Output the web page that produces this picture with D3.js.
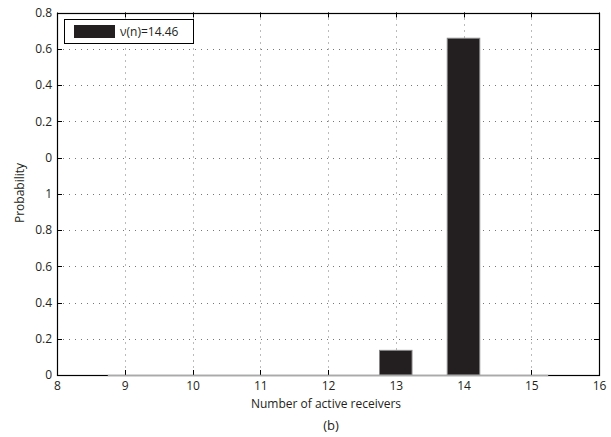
<!doctype html>
<html lang="en">
<head>
  <meta charset="utf-8">
  <title>Probability of active receivers</title>
  <script src="https://d3js.org/d3.v7.min.js"></script>
  <style>
    body { margin: 0; background: #fff; }
    text { font-family: "Open Sans", "Noto Sans", sans-serif; fill: #231f20; }
  </style>
</head>
<body>
  <div id='my_chart'></div>
<script>
  // data
  var receivers = [9, 10, 11, 12, 13, 14, 15];
  var probability = [0, 0, 0, 0, 0.136, 1.858, 0];
  var x_ticks = [8, 9, 10, 11, 12, 13, 14, 15, 16];
  var y_ticks = [0, 0.2, 0.4, 0.6, 0.8, 1.0, 1.2, 1.4, 1.6, 1.8, 2.0];
  var y_tick_labels = ["0", "0.2", "0.4", "0.6", "0.8", "1", "0", "0.2", "0.4", "0.6", "0.8"];
  var legend_label = "\u03bd(n)=14.46";

  var width = 611, height = 437;
  var m_left = 57, m_right = 599, m_top = 12.5, m_bottom = 375;
  var bar_width = 0.48; // in x units
  var tick_len = 5;

  var x = d3.scaleLinear().domain([8, 16]).range([m_left, m_right]);
  var y = d3.scaleLinear().domain([0, 2]).range([m_bottom, m_top]);
  var px = v => Math.round(v) + 0.5;

  var svg = d3.select('#my_chart').append('svg')
    .attr('width', width)
    .attr('height', height);

  // dotted grid
  var grid = svg.append('g');
  grid.selectAll('line.h')
    .data(y_ticks.slice(1, -1))
    .enter().append('line')
      .attr('x1', m_left).attr('x2', m_right)
      .attr('y1', d => px(y(d))).attr('y2', d => px(y(d)))
      .attr('stroke', '#777')
      .attr('stroke-dasharray', '1,5');
  grid.selectAll('line.v')
    .data(x_ticks.slice(1, -1))
    .enter().append('line')
      .attr('y1', m_top).attr('y2', m_bottom)
      .attr('x1', d => px(x(d))).attr('x2', d => px(x(d)))
      .attr('stroke', '#777')
      .attr('stroke-dasharray', '1,5');

  // axes (left/bottom labels, ticks inward on all sides)
  var ax_left = svg.append('g')
    .attr('transform', 'translate(' + m_left + ',0)')
    .call(d3.axisLeft(y).tickValues(y_ticks).tickSize(0).tickPadding(5)
      .tickFormat((d, i) => y_tick_labels[i]));
  var ax_bottom = svg.append('g')
    .attr('transform', 'translate(0,' + m_bottom + ')')
    .call(d3.axisBottom(x).tickValues(x_ticks).tickSize(0).tickPadding(6)
      .tickFormat(d3.format('d')));
  [ax_left, ax_bottom].forEach(function (g) {
    g.select('.domain').remove();
    g.selectAll('text').style('font-size', '12px')
      .style('font-family', '"Open Sans", "Noto Sans", sans-serif')
      .attr('fill', '#231f20');
  });

  // inward ticks
  var ticks = svg.append('g').attr('stroke', '#000');
  ticks.selectAll('line.l').data(y_ticks).enter().append('line')
    .attr('x1', m_left).attr('x2', m_left + tick_len)
    .attr('y1', d => px(y(d))).attr('y2', d => px(y(d)));
  ticks.selectAll('line.r').data(y_ticks).enter().append('line')
    .attr('x1', m_right - tick_len).attr('x2', m_right)
    .attr('y1', d => px(y(d))).attr('y2', d => px(y(d)));
  ticks.selectAll('line.b').data(x_ticks).enter().append('line')
    .attr('y1', m_bottom).attr('y2', m_bottom - tick_len)
    .attr('x1', d => px(x(d))).attr('x2', d => px(x(d)));
  ticks.selectAll('line.t').data(x_ticks).enter().append('line')
    .attr('y1', m_top).attr('y2', m_top + tick_len)
    .attr('x1', d => px(x(d))).attr('x2', d => px(x(d)));

  // box
  svg.append('rect')
    .attr('x', m_left + 0.5).attr('y', Math.round(m_top) + 0.5)
    .attr('width', m_right - m_left).attr('height', m_bottom - Math.round(m_top))
    .attr('fill', 'none')
    .attr('stroke', '#000')
    .attr('stroke-width', 1.2);

  // bars
  svg.append('g').selectAll('rect')
    .data(probability)
    .enter().append('rect')
      .attr('x', (d, i) => x(receivers[i] - bar_width / 2))
      .attr('width', x(bar_width) - x(0))
      .attr('y', d => y(d))
      .attr('height', d => y(0) - y(d))
      .attr('fill', '#231f20')
      .attr('stroke', '#888')
      .attr('stroke-width', 1);

  // gray baseline across the bars' extent
  svg.append('line')
    .attr('x1', x(d3.min(receivers) - 0.25))
    .attr('x2', x(d3.max(receivers) + 0.25))
    .attr('y1', m_bottom + 0.5).attr('y2', m_bottom + 0.5)
    .attr('stroke', '#aaa')
    .attr('stroke-width', 1.5);

  // legend
  var legend = svg.append('g');
  legend.append('rect')
    .attr('x', 64.5).attr('y', 19.5).attr('width', 129).attr('height', 24)
    .attr('fill', '#fff').attr('stroke', '#000');
  legend.append('rect')
    .attr('x', 74).attr('y', 25).attr('width', 41).attr('height', 13)
    .attr('fill', '#231f20');
  legend.append('text')
    .attr('x', 120).attr('y', 36)
    .style('font-size', '12px')
    .text(legend_label);

  // axis titles
  svg.append('text')
    .attr('transform', 'translate(24,193) rotate(-90)')
    .attr('text-anchor', 'middle')
    .style('font-size', '12px')
    .text('Probability');
  svg.append('text')
    .attr('x', 326).attr('y', 408)
    .attr('text-anchor', 'middle')
    .style('font-size', '12px')
    .text('Number of active receivers');
  svg.append('text')
    .attr('x', 331).attr('y', 430)
    .attr('text-anchor', 'middle')
    .style('font-size', '13px')
    .text('(b)');
</script>
</body>
</html>
